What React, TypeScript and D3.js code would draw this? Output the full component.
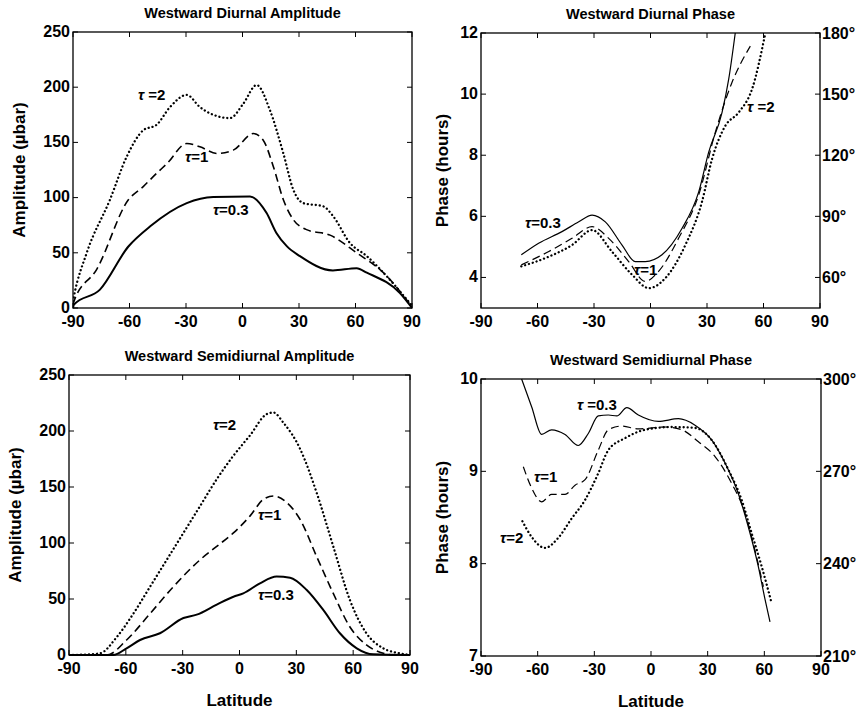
import React from 'react';
import * as d3 from 'd3';

// latitude / value pairs
const latTicks = [-90, -60, -30, 0, 30, 60, 90];

// Westward Diurnal Amplitude (µbar)
const dAmp03: [number, number][] = [[-90, 0], [-89.5, 3], [-75.7, 16.6], [-60.6, 55.7], [-49, 74], [-29.6, 95], [-15.5, 100.5], [4, 101], [12.8, 86], [18, 68], [23.5, 56], [30.5, 47], [48, 34], [60.6, 36], [66, 32], [83.6, 13.5], [90, 0]];
const dAmp1: [number, number][] = [[-90, 3], [-89.5, 6], [-77.4, 35], [-60.6, 98], [-52.7, 110], [-45.6, 122], [-40, 131], [-29.6, 149], [-22.6, 146], [-13.7, 140], [-4.9, 143], [5.8, 158], [11, 152], [16.4, 128], [21.7, 98], [27, 80], [34, 71], [46.5, 66], [60.6, 50], [74.8, 32], [90, 1]];
const dAmp2: [number, number][] = [[-90, 6], [-89.5, 10.5], [-82.7, 50], [-70.4, 98], [-61.5, 137], [-52.7, 161], [-45.6, 166], [-38.5, 182], [-29.6, 193], [-22.6, 182], [-15.5, 175], [-6.6, 172], [0.4, 185], [7.5, 202], [14.6, 179], [21.7, 140], [27, 107], [32.3, 95], [43, 92], [48.2, 83], [57, 59], [66, 47], [74.8, 32], [90, 2]];

// Westward Diurnal Phase (hours)
const dPh03: [number, number][] = [[-68.6, 4.74], [-59.4, 5.12], [-47, 5.5], [-38.1, 5.82], [-31, 6.04], [-24, 5.82], [-15.1, 5.06], [-8.1, 4.52], [-2.8, 4.52], [6.1, 4.74], [16.7, 5.6], [25.6, 6.8], [30.9, 8.1], [38, 9.4], [41.5, 10.48], [45, 12]];
const dPh1: [number, number][] = [[-68.6, 4.41], [-54, 4.85], [-41.7, 5.28], [-31, 5.66], [-22.2, 5.28], [-11.6, 4.52], [-2.8, 3.87], [4.3, 4.2], [14.9, 5.28], [25.6, 6.7], [34.4, 8.75], [43.2, 10.37], [53, 11.57]];
const dPh2: [number, number][] = [[-68.6, 4.36], [-54, 4.68], [-41.7, 5.06], [-31, 5.55], [-20.4, 4.84], [-9.8, 4.09], [-0.9, 3.65], [7.9, 3.98], [18.5, 5.06], [27.3, 6.47], [32.7, 7.88], [39.7, 8.96], [46.8, 9.4], [53.9, 10.16], [61, 12]];

// Westward Semidiurnal Amplitude (µbar)
const sAmp03: [number, number][] = [[-90, 0], [-66.6, 0], [-59.6, 6], [-52.5, 13.4], [-42, 19.4], [-29.6, 33], [-22.6, 36], [-12, 45], [-3.2, 52], [2, 55], [10.8, 64], [19.6, 70], [26.7, 69], [35.5, 58], [44.3, 40], [53, 19.4], [61.9, 6], [70.6, 0.6], [90, 0]];
const sAmp1: [number, number][] = [[-90, 0], [-70, 0], [-59.6, 13.4], [-47.2, 37], [-34.9, 61], [-20.8, 85], [-12, 97], [-3.2, 109], [5.5, 124], [12.6, 139], [17.9, 142], [25, 136], [32, 121], [40.7, 88], [49.5, 55], [58.3, 25], [67, 9], [75.9, 1.5], [81, 0], [90, 0]];
const sAmp2: [number, number][] = [[-90, 0], [-80, 0.5], [-73.6, 1.5], [-64.8, 16], [-56, 37], [-47.2, 61], [-38.4, 85], [-29.6, 109], [-20.8, 133], [-12, 157], [-3.2, 178], [5.5, 196], [14.3, 215], [17.9, 216.5], [23.1, 207.6], [32, 184], [40.7, 145], [49.5, 97], [58.3, 49], [67, 19.4], [75.9, 6], [84.7, 1.5], [90, 0]];

// Westward Semidiurnal Phase (hours)
const sPh03: [number, number][] = [[-68.5, 10], [-63.2, 9.7], [-57.9, 9.4], [-52.6, 9.45], [-45.5, 9.4], [-38.5, 9.28], [-33.2, 9.41], [-27.9, 9.6], [-22.6, 9.61], [-18.1, 9.6], [-12.8, 9.69], [-6.7, 9.61], [3.9, 9.54], [14.5, 9.57], [23.3, 9.5], [32.1, 9.34], [39.2, 9.09], [46.2, 8.76], [51.5, 8.4], [56.8, 7.97], [60.4, 7.61], [63, 7.37]];
const sPh1: [number, number][] = [[-67.6, 9.05], [-63.2, 8.82], [-57.9, 8.67], [-52.6, 8.75], [-45.5, 8.75], [-40.2, 8.85], [-34.9, 8.91], [-27.9, 9.23], [-22.6, 9.45], [-15.5, 9.49], [-6.7, 9.46], [7.5, 9.48], [16.3, 9.45], [25.1, 9.32], [33.9, 9.16], [42.7, 8.87], [49.7, 8.55], [55, 8.15], [59.5, 7.75]];
const sPh2: [number, number][] = [[-68.1, 8.46], [-63.2, 8.29], [-56.1, 8.17], [-49.1, 8.28], [-42, 8.49], [-34.9, 8.69], [-27.9, 8.98], [-22.6, 9.23], [-13.7, 9.36], [-3.2, 9.45], [11, 9.48], [23.3, 9.47], [32.1, 9.34], [40.9, 9.02], [48, 8.69], [53.3, 8.33], [58.6, 7.97], [63.9, 7.57]];

const ampTicks = [0, 50, 100, 150, 200, 250];
const dPhTicks = [4, 6, 8, 10, 12];
const sPhTicks = [7, 8, 9, 10];

type Style = 'solid' | 'dashed' | 'dotted';

interface Panel {
  title: string;
  box: [number, number, number, number]; // left, right, top, bottom
  yDomain: [number, number];
  yTicks: number[];
  yLabel: string;
  degPerHour: number; // 0 = no right axis
  xLabel: boolean;
  heavy: boolean;
  series: { pts: [number, number][]; style: Style }[];
  labels: { text: string; at: [number, number] }[];
}

const panels: Panel[] = [
  {
    title: 'Westward Diurnal Amplitude', box: [73, 412, 32, 308], yDomain: [0, 250], yTicks: ampTicks,
    yLabel: 'Amplitude (µbar)', degPerHour: 0, xLabel: false, heavy: true,
    series: [{ pts: dAmp03, style: 'solid' }, { pts: dAmp1, style: 'dashed' }, { pts: dAmp2, style: 'dotted' }],
    labels: [{ text: ' =2', at: [-55.5, 188] }, { text: '=1', at: [-30.5, 132] }, { text: '=0.3', at: [-15.7, 84] }],
  },
  {
    title: 'Westward Diurnal Phase', box: [481, 820, 33, 308], yDomain: [3, 12], yTicks: dPhTicks,
    yLabel: 'Phase (hours)', degPerHour: 15, xLabel: false, heavy: false,
    series: [{ pts: dPh03, style: 'solid' }, { pts: dPh1, style: 'dashed' }, { pts: dPh2, style: 'dotted' }],
    labels: [{ text: '=0.3', at: [-66.6, 5.62] }, { text: '=1', at: [-8.7, 4.08] }, { text: ' =2', at: [51.3, 9.41] }],
  },
  {
    title: 'Westward Semidiurnal Amplitude', box: [69, 410, 375, 655], yDomain: [0, 250], yTicks: ampTicks,
    yLabel: 'Amplitude (µbar)', degPerHour: 0, xLabel: true, heavy: true,
    series: [{ pts: sAmp03, style: 'solid' }, { pts: sAmp1, style: 'dashed' }, { pts: sAmp2, style: 'dotted' }],
    labels: [{ text: '=2', at: [-14, 201] }, { text: '=1', at: [9.8, 120.5] }, { text: '=0.3', at: [9.8, 49] }],
  },
  {
    title: 'Westward Semidiurnal Phase', box: [481, 821, 379, 656], yDomain: [7, 10], yTicks: sPhTicks,
    yLabel: 'Phase (hours)', degPerHour: 30, xLabel: true, heavy: false,
    series: [{ pts: sPh03, style: 'solid' }, { pts: sPh1, style: 'dashed' }, { pts: sPh2, style: 'dotted' }],
    labels: [{ text: ' =0.3', at: [-39.2, 9.66] }, { text: '=1', at: [-61.9, 8.88] }, { text: '=2', at: [-79.9, 8.22] }],
  },
];

const FONT = '"Liberation Sans", Arial, Helvetica, sans-serif';

function PanelView({ p, idx }: { p: Panel; idx: number }) {
  const [l, r, t, b] = p.box;
  const x = d3.scaleLinear().domain([-90, 90]).range([l, r]);
  const y = d3.scaleLinear().domain(p.yDomain).range([b, t]);
  const line = d3.line<[number, number]>()
    .x(d => x(d[0]))
    .y(d => y(d[1]))
    .curve(d3.curveMonotoneX);
  const tk = 5;
  const clipId = 'clip' + idx;

  const styleOf = (s: Style) => {
    if (s === 'solid') return { strokeWidth: p.heavy ? 2 : 1.2 };
    if (s === 'dashed') return { strokeWidth: p.heavy ? 1.6 : 1.2, strokeDasharray: '8 4.5' };
    return { strokeWidth: 2.3, strokeDasharray: '0.1 3.9', strokeLinecap: 'round' as const };
  };

  return (
    <g fontFamily={FONT} fontWeight="bold" fill="#000">
      <defs>
        <clipPath id={clipId}>
          <rect x={l} y={t - 1} width={r - l} height={b - t + 2} />
        </clipPath>
      </defs>
      <text x={(l + r) / 2} y={t - 14} textAnchor="middle" fontSize={14.5}>{p.title}</text>
      <rect x={l} y={t} width={r - l} height={b - t} fill="none" stroke="#000" strokeWidth={1.3} />

      {latTicks.map(v => (
        <g key={'x' + v}>
          <line x1={x(v)} x2={x(v)} y1={b} y2={b - tk} stroke="#000" />
          <line x1={x(v)} x2={x(v)} y1={t} y2={t + tk} stroke="#000" />
          <text x={x(v)} y={b + 18.5} textAnchor="middle" fontSize={16}>{v}</text>
        </g>
      ))}

      {p.yTicks.map(v => (
        <g key={'y' + v}>
          <line x1={l} x2={l + tk} y1={y(v)} y2={y(v)} stroke="#000" />
          <line x1={r} x2={r - tk} y1={y(v)} y2={y(v)} stroke="#000" />
          <text x={l - 3} y={y(v)} dy="0.3em" textAnchor="end" fontSize={16}>{v}</text>
          {p.degPerHour > 0 && (
            <text x={r + 2} y={y(v)} dy="0.36em" textAnchor="start" fontSize={16}>{v * p.degPerHour + '°'}</text>
          )}
        </g>
      ))}

      <text transform={`translate(${l - (p.degPerHour ? 33 : 48)},${(t + b) / 2}) rotate(-90)`} textAnchor="middle" fontSize={17}>{p.yLabel}</text>
      {p.xLabel && (
        <text x={(l + r) / 2} y={b + 51} textAnchor="middle" fontSize={17}>Latitude</text>
      )}

      <g clipPath={`url(#${clipId})`}>
        {p.series.map((s, i) => (
          <path key={i} d={line(s.pts) || ''} fill="none" stroke="#000" {...styleOf(s.style)} />
        ))}
      </g>

      {p.labels.map((lb, i) => (
        <text key={'l' + i} x={x(lb.at[0])} y={y(lb.at[1])} fontSize={15}>
          <tspan fontStyle="italic">τ</tspan>{lb.text}
        </text>
      ))}
    </g>
  );
}

export default function App() {
  return (
    <div style={{ position: 'absolute', left: 0, top: 0 }}>
      <svg width={864} height={714} style={{ display: 'block', background: '#fff' }}>
        <rect width={864} height={714} fill="#fff" />
        {panels.map((p, i) => <PanelView key={i} p={p} idx={i} />)}
      </svg>
    </div>
  );
}
